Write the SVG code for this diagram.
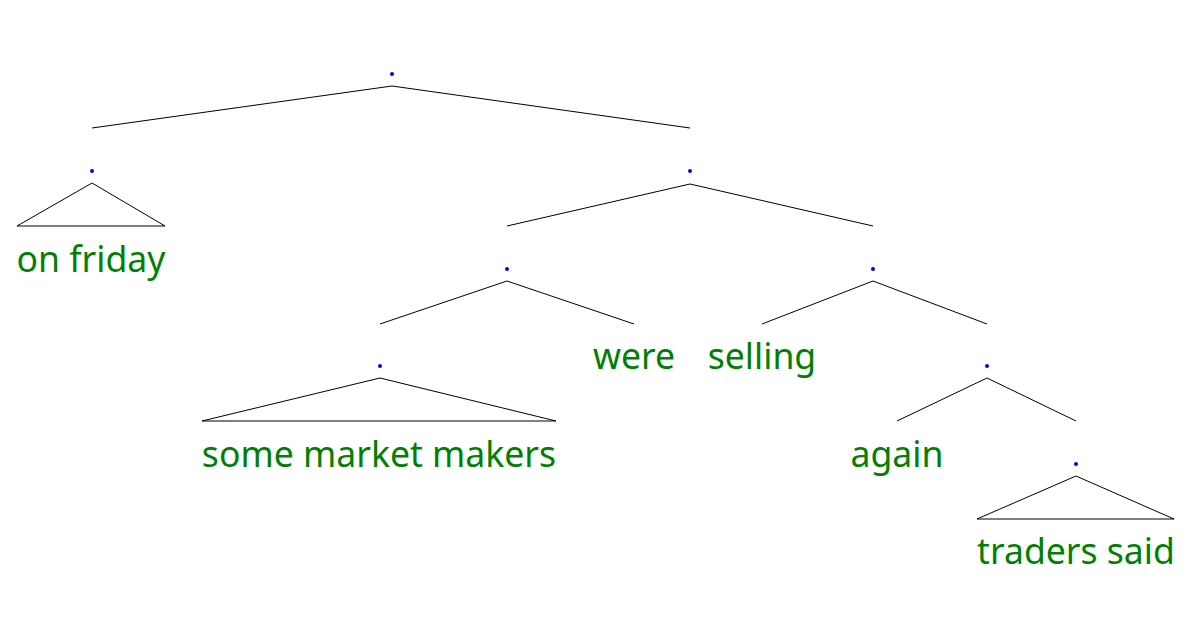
<svg xmlns="http://www.w3.org/2000/svg" width="1200" height="628" viewBox="0 0 1200 628">
<style>
.e{stroke:#000;stroke-width:1;fill:none}
.d{fill:#0000ff}
.w{font-family:"Noto Sans","Open Sans",sans-serif;font-size:35.6px;fill:#008000;text-anchor:middle}
</style>
<rect width="1200" height="628" fill="#fff"/>
<g id="connectors">
<path class="e" d="M392,86L92,128M392,86L690,128"/>
<path class="e" d="M92,183L17,226L165,226Z"/>
<path class="e" d="M690,184L507,226M690,184L873,226"/>
<path class="e" d="M507,281L380,324M507,281L634,324"/>
<path class="e" d="M873,281L762,324M873,281L987,324"/>
<path class="e" d="M380,378L202,421L556,421Z"/>
<path class="e" d="M987,378L897,421M987,378L1076,421"/>
<path class="e" d="M1076,476L977,519L1174,519Z"/>
</g>
<g id="n0"><circle class="d" cx="392" cy="74" r="2"/></g>
<g id="n1"><circle class="d" cx="92" cy="171" r="2"/><text class="w" x="91" y="272">on friday</text></g>
<g id="n2"><circle class="d" cx="690" cy="171" r="2"/></g>
<g id="n3"><circle class="d" cx="507" cy="269" r="2"/></g>
<g id="n4"><circle class="d" cx="873" cy="269" r="2"/></g>
<g id="n5"><circle class="d" cx="380" cy="366" r="2"/><text class="w" x="379" y="467">some market makers</text></g>
<g id="n6"><text class="w" x="634" y="369">were</text></g>
<g id="n7"><text class="w" x="762" y="369">selling</text></g>
<g id="n8"><circle class="d" cx="987" cy="366" r="2"/></g>
<g id="n9"><text class="w" x="897" y="467">again</text></g>
<g id="n10"><circle class="d" cx="1076" cy="464" r="2"/><text class="w" x="1076" y="564">traders said</text></g>
</svg>
